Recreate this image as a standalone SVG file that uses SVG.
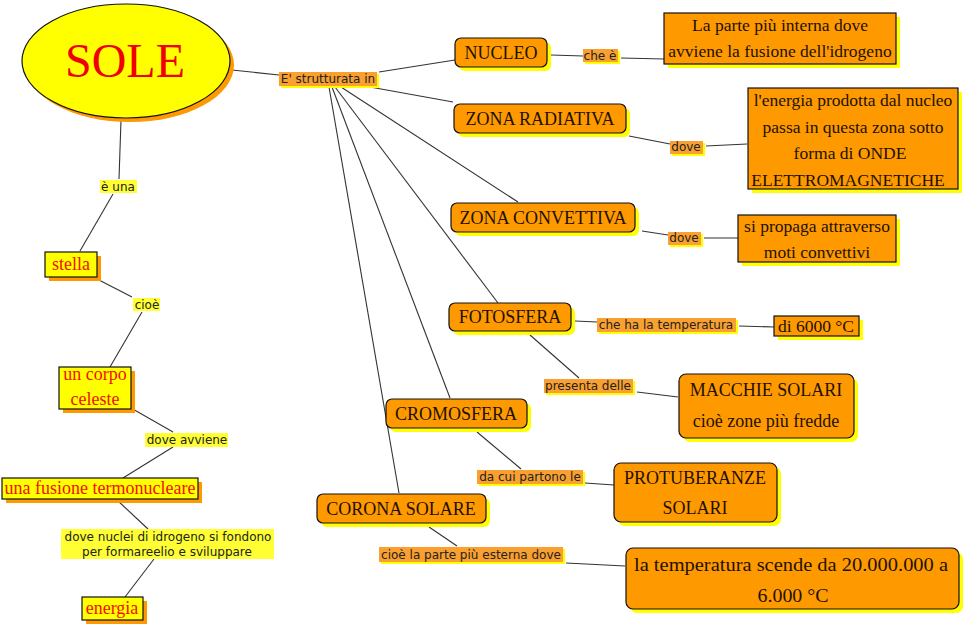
<svg xmlns="http://www.w3.org/2000/svg" width="966" height="627" viewBox="0 0 966 627">
<style>
.bg{fill:#ffffff}
.c line{stroke:#333;stroke-width:1.1}
.on{fill:#FF9900;stroke:#111;stroke-width:1.2}
.ys{fill:#FFFF00}
.yn{fill:#FFFF00;stroke:#111;stroke-width:1.2}
.os{fill:#FF9900}
.lo{fill:#F9A030}
.ly{fill:#FFFF33}
.t{font-family:"Liberation Serif","Times New Roman",serif;font-size:18px;fill:#221100;text-anchor:middle}
.r{font-family:"Liberation Serif","Times New Roman",serif;font-size:18px;fill:#F01000;text-anchor:middle}
.l{font-family:"DejaVu Sans",Verdana,sans-serif;font-size:12px;fill:#222;text-anchor:middle}
</style>
<rect class="bg" x="0" y="0" width="966" height="627"/>
<g id="connectors" class="c">
<line x1="232" y1="70" x2="279" y2="75"/>
<line x1="379" y1="72" x2="455" y2="60"/>
<line x1="370" y1="87" x2="453" y2="102"/>
<line x1="341" y1="87" x2="518" y2="202"/>
<line x1="335" y1="87" x2="498" y2="303"/>
<line x1="332" y1="87" x2="450" y2="398"/>
<line x1="329" y1="87" x2="399" y2="493"/>
<line x1="551" y1="55" x2="583" y2="56"/>
<line x1="621" y1="58" x2="664" y2="59"/>
<line x1="629" y1="136" x2="670" y2="144"/>
<line x1="706" y1="146" x2="747" y2="144"/>
<line x1="642" y1="231" x2="668" y2="235"/>
<line x1="704" y1="238" x2="738" y2="238"/>
<line x1="575" y1="321" x2="597" y2="322"/>
<line x1="739" y1="326" x2="774" y2="327"/>
<line x1="530" y1="335" x2="579" y2="378"/>
<line x1="637" y1="392" x2="678" y2="397"/>
<line x1="477" y1="432" x2="521" y2="469"/>
<line x1="585" y1="483" x2="614" y2="485"/>
<line x1="429" y1="527" x2="457" y2="546"/>
<line x1="566" y1="563" x2="625" y2="566"/>
<line x1="121" y1="120" x2="119" y2="179"/>
<line x1="113" y1="194" x2="80" y2="251"/>
<line x1="97" y1="279" x2="132" y2="297"/>
<line x1="142" y1="312" x2="110" y2="367"/>
<line x1="131" y1="408" x2="173" y2="432"/>
<line x1="173" y1="447" x2="123" y2="478"/>
<line x1="117" y1="500" x2="148" y2="529"/>
<line x1="154" y1="559" x2="125" y2="597"/>
</g>

<g id="sole">
<ellipse class="os" cx="130" cy="65" rx="104" ry="57"/>
<ellipse class="yn" cx="126" cy="61" rx="104" ry="57"/>
<text x="125" y="77" style="font-family:'Liberation Serif','Times New Roman',serif;font-size:48px;fill:#F00000;text-anchor:middle">SOLE</text>
</g>

<g id="lbl-strutturata"><rect class="ys" x="281" y="74" width="98" height="14"/><rect class="lo" x="279" y="72" width="98" height="14"/><text class="l" x="328" y="83">E' strutturata in</text></g>

<g id="nucleo"><rect class="ys" x="459" y="42" width="92" height="29" rx="6"/><rect class="on" x="455" y="38" width="92" height="29" rx="6"/><text class="t" x="501" y="59">NUCLEO</text></g>
<g id="lbl-chee"><rect class="ys" x="585" y="51" width="35" height="13"/><rect class="lo" x="583" y="49" width="35" height="13"/><text class="l" x="600" y="60">che è</text></g>
<g id="parte-interna"><rect class="ys" x="668" y="17" width="232" height="51"/><rect class="on" x="664" y="13" width="232" height="51"/><text class="t" x="780" y="31" style="font-size:17.5px">La parte più interna dove</text><text class="t" x="780" y="57" style="font-size:17.5px">avviene la fusione dell'idrogeno</text></g>

<g id="zona-radiativa"><rect class="ys" x="458" y="108" width="172" height="29" rx="6"/><rect class="on" x="454" y="104" width="172" height="29" rx="6"/><text class="t" x="540" y="125">ZONA RADIATIVA</text></g>
<g id="lbl-dove1"><rect class="ys" x="672" y="143" width="33" height="13"/><rect class="lo" x="670" y="141" width="33" height="13"/><text class="l" x="686" y="151">dove</text></g>
<g id="energia-prodotta"><rect class="ys" x="752" y="92" width="210" height="101"/><rect class="on" x="748" y="88" width="210" height="101"/><text class="t" x="853" y="106" style="font-size:17.5px">l'energia prodotta dal nucleo</text><text class="t" x="853" y="133" style="font-size:17.5px">passa in questa zona sotto</text><text class="t" x="850" y="159" style="font-size:17.5px">forma di ONDE</text><text class="t" x="848" y="186" style="font-size:17.5px">ELETTROMAGNETICHE</text></g>

<g id="zona-convettiva"><rect class="ys" x="455" y="207" width="184" height="29" rx="6"/><rect class="on" x="451" y="203" width="184" height="29" rx="6"/><text class="t" x="543" y="224">ZONA CONVETTIVA</text></g>
<g id="lbl-dove2"><rect class="ys" x="670" y="234" width="33" height="13"/><rect class="lo" x="668" y="232" width="33" height="13"/><text class="l" x="684" y="242">dove</text></g>
<g id="si-propaga"><rect class="ys" x="742" y="219" width="158" height="47"/><rect class="on" x="738" y="215" width="158" height="47"/><text class="t" x="817" y="232" style="font-size:17.5px">si propaga attraverso</text><text class="t" x="817" y="258" style="font-size:17.5px">moti convettivi</text></g>

<g id="fotosfera"><rect class="ys" x="453" y="307" width="122" height="28" rx="6"/><rect class="on" x="449" y="303" width="122" height="28" rx="6"/><text class="t" x="510" y="323">FOTOSFERA</text></g>
<g id="lbl-temperatura"><rect class="ys" x="599" y="320" width="139" height="14"/><rect class="lo" x="597" y="318" width="139" height="14"/><text class="l" x="666" y="329">che ha la temperatura</text></g>
<g id="di-6000"><rect class="ys" x="778" y="320" width="85" height="20"/><rect class="on" x="774" y="316" width="85" height="20"/><text class="t" x="816" y="332" style="font-size:17.5px">di 6000 °C</text></g>
<g id="lbl-presenta"><rect class="ys" x="546" y="381" width="89" height="14"/><rect class="lo" x="544" y="379" width="89" height="14"/><text class="l" x="588" y="390">presenta delle</text></g>
<g id="macchie"><rect class="ys" x="683" y="378" width="175" height="64" rx="7"/><rect class="on" x="679" y="374" width="175" height="64" rx="7"/><text class="t" x="766" y="396">MACCHIE SOLARI</text><text class="t" x="766" y="427">cioè zone più fredde</text></g>

<g id="cromosfera"><rect class="ys" x="390" y="403" width="141" height="29" rx="6"/><rect class="on" x="386" y="399" width="141" height="29" rx="6"/><text class="t" x="456" y="420">CROMOSFERA</text></g>
<g id="lbl-dacui"><rect class="ys" x="479" y="472" width="106" height="14"/><rect class="lo" x="477" y="470" width="106" height="14"/><text class="l" x="530" y="481">da cui partono le</text></g>
<g id="protuberanze"><rect class="ys" x="618" y="467" width="163" height="59" rx="7"/><rect class="on" x="614" y="463" width="163" height="59" rx="7"/><text class="t" x="695" y="484">PROTUBERANZE</text><text class="t" x="695" y="514">SOLARI</text></g>

<g id="corona"><rect class="ys" x="321" y="498" width="169" height="29" rx="6"/><rect class="on" x="317" y="494" width="169" height="29" rx="6"/><text class="t" x="401" y="515">CORONA SOLARE</text></g>
<g id="lbl-esterna"><rect class="ys" x="381" y="549" width="184" height="15"/><rect class="lo" x="379" y="547" width="184" height="15"/><text class="l" x="471" y="559">cioè la parte più esterna dove</text></g>
<g id="temperatura-scende"><rect class="ys" x="630" y="552" width="333" height="61" rx="7"/><rect class="on" x="626" y="548" width="333" height="61" rx="7"/><text class="t" x="791" y="571" textLength="314" lengthAdjust="spacingAndGlyphs">la temperatura scende da 20.000.000 a</text><text class="t" x="793" y="602" textLength="71" lengthAdjust="spacingAndGlyphs">6.000 °C</text></g>

<g id="lbl-euna"><rect class="ly" x="100" y="180" width="37" height="13"/><text class="l" x="118" y="191">è una</text></g>
<g id="stella"><rect class="os" x="49" y="256" width="52" height="25"/><rect class="yn" x="45" y="252" width="52" height="25"/><text class="r" x="71" y="270">stella</text></g>
<g id="lbl-cioe"><rect class="ly" x="133" y="298" width="27" height="13"/><text class="l" x="147" y="309">cioè</text></g>
<g id="corpo-celeste"><rect class="os" x="63" y="371" width="72" height="42"/><rect class="yn" x="59" y="367" width="72" height="42"/><text class="r" x="95" y="380">un corpo</text><text class="r" x="95" y="405">celeste</text></g>
<g id="lbl-doveavviene"><rect class="ly" x="145" y="433" width="83" height="14"/><text class="l" x="187" y="444">dove avviene</text></g>
<g id="fusione"><rect class="os" x="6" y="482" width="196" height="21"/><rect class="yn" x="2" y="478" width="196" height="21"/><text class="r" x="100" y="494">una fusione termonucleare</text></g>
<g id="lbl-nuclei"><rect class="ly" x="61" y="529" width="213" height="30"/><text class="l" x="168" y="541">dove nuclei di idrogeno si fondono</text><text class="l" x="167" y="556">per formareelio e sviluppare</text></g>
<g id="energia"><rect class="os" x="86" y="601" width="61" height="23"/><rect class="yn" x="82" y="597" width="61" height="23"/><text class="r" x="112" y="614">energia</text></g>
</svg>
